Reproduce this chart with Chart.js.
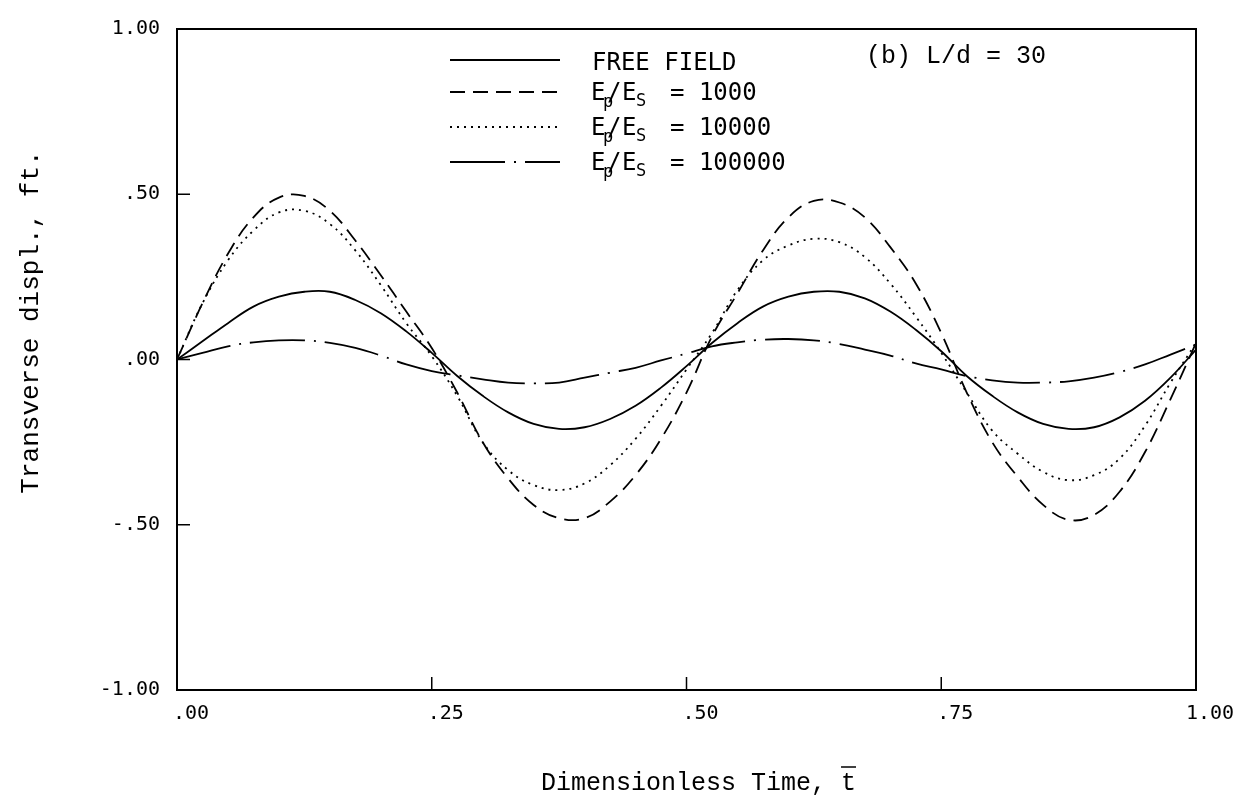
<!DOCTYPE html>
<html>
<head>
<meta charset="utf-8">
<script src="https://cdn.jsdelivr.net/npm/chart.js@4.4.0/dist/chart.umd.min.js"></script>
<style>
  html, body { margin: 0; padding: 0; background: #fff; }
  canvas { display: block; }
</style>
</head>
<body>
<canvas id="chart" width="1246" height="796"></canvas>
<script>
// dimensionless time, t
var timeValues = [0, 0.025, 0.05, 0.075, 0.1, 0.125, 0.15, 0.175, 0.2, 0.225,
                  0.25, 0.275, 0.3, 0.325, 0.35, 0.375, 0.4, 0.425, 0.45, 0.475,
                  0.5, 0.525, 0.55, 0.575, 0.6, 0.625, 0.65, 0.675, 0.7, 0.725,
                  0.75, 0.775, 0.8, 0.825, 0.85, 0.875, 0.9, 0.925, 0.95, 0.975, 1.0];

// transverse displacement, ft.
var freeField = [0.00, 0.055, 0.11, 0.16, 0.19, 0.205, 0.205, 0.18, 0.14, 0.085,
                 0.02, -0.05, -0.11, -0.16, -0.195, -0.21, -0.205, -0.18, -0.14, -0.085,
                 -0.02, 0.05, 0.11, 0.16, 0.19, 0.205, 0.205, 0.185, 0.145, 0.09,
                 0.025, -0.05, -0.11, -0.16, -0.195, -0.21, -0.205, -0.175, -0.125, -0.055, 0.03];
var ratio1000 = [0.00, 0.17, 0.32, 0.43, 0.49, 0.495, 0.45, 0.36, 0.255, 0.145,
                 0.035, -0.10, -0.25, -0.36, -0.44, -0.48, -0.48, -0.43, -0.35, -0.24,
                 -0.10, 0.07, 0.20, 0.33, 0.43, 0.48, 0.475, 0.43, 0.34, 0.23,
                 0.08, -0.10, -0.25, -0.355, -0.44, -0.485, -0.47, -0.40, -0.28, -0.12, 0.05];
var ratio10000 = [0.00, 0.17, 0.30, 0.39, 0.445, 0.45, 0.41, 0.33, 0.225, 0.11,
                  0.01, -0.11, -0.25, -0.335, -0.38, -0.395, -0.375, -0.32, -0.24, -0.14,
                  -0.03, 0.08, 0.21, 0.30, 0.345, 0.365, 0.355, 0.31, 0.23, 0.13,
                  0.02, -0.10, -0.215, -0.285, -0.34, -0.365, -0.35, -0.30, -0.20, -0.07, 0.05];
var ratio100000 = [0.00, 0.02, 0.04, 0.052, 0.058, 0.058, 0.05, 0.035, 0.012, -0.015,
                   -0.035, -0.048, -0.06, -0.07, -0.072, -0.07, -0.055, -0.04, -0.025, -0.003,
                   0.018, 0.04, 0.052, 0.06, 0.062, 0.058, 0.047, 0.03, 0.012, -0.012,
                   -0.03, -0.05, -0.063, -0.07, -0.07, -0.066, -0.055, -0.038, -0.015, 0.015, 0.045];

var seriesNames = ['FREE FIELD', '1000', '10000', '100000'];
var xTickLabels = ['.00', '.25', '.50', '.75', '1.00'];
var yTickLabels = ['-1.00', '-.50', '.00', '.50', '1.00'];

function toPoints(ys) {
    return ys.map(function (y, i) { return { x: timeValues[i], y: y }; });
}

var tickFont = '"DejaVu Sans Mono", monospace';
var textFont = '"Liberation Mono", "DejaVu Sans Mono", monospace';

// frame, inward tick marks, legend, label and axis titles
var paperPlugin = {
    id: 'paper',
    afterDraw: function (chart) {
        var ctx = chart.ctx;
        var a = chart.chartArea;
        var xs = chart.scales.x, ys = chart.scales.y;
        ctx.save();
        ctx.strokeStyle = '#000';
        ctx.lineWidth = 2;
        ctx.strokeRect(a.left, a.top, a.right - a.left, a.bottom - a.top);

        ctx.lineWidth = 1.5;
        ctx.beginPath();
        [0.25, 0.5, 0.75].forEach(function (v) {
            var px = xs.getPixelForValue(v);
            ctx.moveTo(px, a.bottom);
            ctx.lineTo(px, a.bottom - 13);
        });
        [0.5, 0, -0.5].forEach(function (v) {
            var py = ys.getPixelForValue(v);
            ctx.moveTo(a.left, py);
            ctx.lineTo(a.left + 13, py);
        });
        ctx.stroke();

        // legend
        var rows = [60, 92, 127, 162];
        chart.data.datasets.forEach(function (ds, i) {
            ctx.strokeStyle = '#000';
            ctx.lineWidth = ds.borderWidth;
            ctx.setLineDash(ds.borderDash || []);
            ctx.beginPath();
            ctx.moveTo(450, rows[i]);
            ctx.lineTo(560, rows[i]);
            ctx.stroke();
            ctx.setLineDash([]);

            var base = rows[i] + 8;
            ctx.fillStyle = '#000';
            ctx.textBaseline = 'alphabetic';
            ctx.textAlign = 'left';
            if (i === 0) {
                ctx.font = '24px ' + tickFont;
                ctx.fillText(seriesNames[0], 592, base + 2);
            } else {
                ctx.font = '24px ' + tickFont;
                ctx.fillText('E', 591, base);
                ctx.font = '17px ' + tickFont;
                ctx.fillText('p', 603, base + 7);
                ctx.font = '24px ' + tickFont;
                ctx.fillText('/', 607, base);
                ctx.fillText('E', 622, base);
                ctx.font = '17px ' + tickFont;
                ctx.fillText('S', 636, base + 6);
                ctx.font = '24px ' + tickFont;
                ctx.fillText('= ' + seriesNames[i], 670, base);
            }
        });

        ctx.font = '25px ' + textFont;
        ctx.fillText('(b) L/d = 30', 866, 63);

        // x title with overbar on t
        var xTitle = 'Dimensionless Time, t';
        ctx.font = '25px ' + textFont;
        var w = ctx.measureText(xTitle).width;
        var cx = (a.left + a.right) / 2 + 12;
        var x0 = cx - w / 2;
        ctx.fillText(xTitle, x0, 790);
        var tw = ctx.measureText('t').width;
        ctx.lineWidth = 1.5;
        ctx.beginPath();
        ctx.moveTo(x0 + w - tw, 767);
        ctx.lineTo(x0 + w, 767);
        ctx.stroke();

        // y title
        ctx.save();
        ctx.translate(38, 322);
        ctx.rotate(-Math.PI / 2);
        ctx.textAlign = 'center';
        ctx.font = '26px ' + textFont;
        ctx.fillText('Transverse displ., ft.', 0, 0);
        ctx.restore();

        ctx.restore();
    }
};

var ctx = document.getElementById('chart').getContext('2d');
var chart = new Chart(ctx, {
    type: 'line',
    data: {
        datasets: [
            { label: seriesNames[0], data: toPoints(freeField), borderDash: [] },
            { label: seriesNames[1], data: toPoints(ratio1000), borderDash: [15, 8] },
            { label: seriesNames[2], data: toPoints(ratio10000), borderDash: [2, 5] },
            { label: seriesNames[3], data: toPoints(ratio100000), borderDash: [55, 9, 2, 9] }
        ].map(function (ds) {
            ds.borderColor = '#000';
            ds.borderWidth = 1.8;
            ds.pointRadius = 0;
            ds.fill = false;
            ds.tension = 0.4;
            return ds;
        })
    },
    options: {
        responsive: false,
        devicePixelRatio: 1,
        animation: false,
        layout: { padding: { top: 18, right: 50, left: 0, bottom: 0 } },
        plugins: {
            legend: { display: false },
            tooltip: { enabled: false }
        },
        scales: {
            x: {
                type: 'linear',
                min: 0,
                max: 1,
                grid: { display: false, drawTicks: false },
                border: { display: false },
                afterFit: function (s) { s.height = 106; },
                ticks: {
                    stepSize: 0.25,
                    padding: 12,
                    labelOffset: 14,
                    color: '#000',
                    font: { family: tickFont, size: 20 },
                    callback: function (v, i) { return xTickLabels[i]; }
                }
            },
            y: {
                min: -1,
                max: 1,
                grid: { display: false, drawTicks: false },
                border: { display: false },
                afterFit: function (s) { s.width = 177; },
                ticks: {
                    stepSize: 0.5,
                    padding: 17,
                    color: '#000',
                    font: { family: tickFont, size: 20 },
                    callback: function (v, i) { return yTickLabels[i]; }
                }
            }
        }
    },
    plugins: [paperPlugin]
});
</script>
</body>
</html>
